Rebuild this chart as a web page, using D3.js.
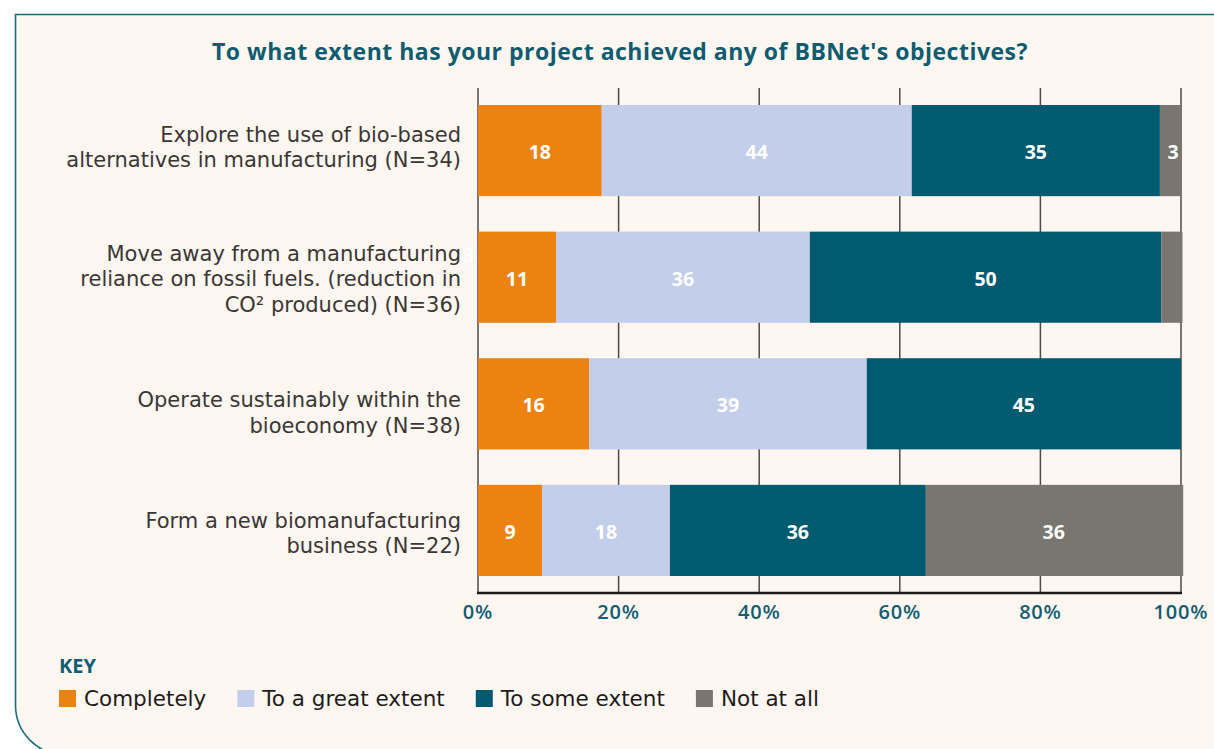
<!DOCTYPE html>
<html lang="en">
<head>
<meta charset="UTF-8">
<title>BBNet objectives</title>
<script src="https://cdn.jsdelivr.net/npm/d3@7"></script>
<style>
  html, body { margin: 0; padding: 0; background: #ffffff; }
  svg { display: block; font-family: "Open Sans", Lato, sans-serif; }
  .cat-label { font-family: "DejaVu Sans", sans-serif; font-size: 21px; fill: #3a3735; }
  .val-label { font-size: 19.5px; font-weight: 700; fill: #ffffff; }
  .tick-label { font-size: 20px; font-weight: 600; fill: #125d72; letter-spacing: 0.8px; }
  .legend-text { font-family: "DejaVu Sans", sans-serif; font-size: 21.5px; fill: #1d1b1a; }
</style>
</head>
<body>
<div id="chart"></div>
<script>
// categories (each line of the label is a separate string)
var categories = [
  ["Explore the use of bio-based", "alternatives in manufacturing (N=34)"],
  ["Move away from a manufacturing", "reliance on fossil fuels. (reduction in", "CO\u00B2 produced) (N=36)"],
  ["Operate sustainably within the", "bioeconomy (N=38)"],
  ["Form a new biomanufacturing", "business (N=22)"]
];

var seriesNames = ["Completely", "To a great extent", "To some extent", "Not at all"];

var completely   = [17.6, 11.1, 15.8, 9.1];
var greatExtent  = [44.1, 36.1, 39.5, 18.2];
var someExtent   = [35.3, 50.0, 44.7, 36.4];
var notAtAll     = [2.9, 2.8, 0, 36.4];

var completelyLbl  = ["18", "11", "16", "9"];
var greatExtentLbl = ["44", "36", "39", "18"];
var someExtentLbl  = ["35", "50", "45", "36"];
var notAtAllLbl    = ["3", "3", "", "36"];

var tickValues = [0, 20, 40, 60, 80, 100];

var colors = ["#eb8211", "#c3ceea", "#005a70", "#79756f"];

var width = 1214, height = 749;
var svg = d3.select("#chart").append("svg")
  .attr("width", width)
  .attr("height", height);

// panel with the rounded bottom-left corner
svg.append("path")
  .attr("d", "M1230,14.5 H15.5 V705 A50,50 0 0 0 65.5,755 H1230 Z")
  .attr("fill", "#fdf6f1")
  .attr("stroke", "#1b6b7d")
  .attr("stroke-width", 1.6);

svg.append("text")
  .attr("x", 620)
  .attr("y", 60)
  .attr("text-anchor", "middle")
  .attr("font-size", 23)
  .attr("font-weight", 700)
  .attr("letter-spacing", 0.5)
  .attr("fill", "#0f5b6f")
  .text("To what extent has your project achieved any of BBNet's objectives?");

var x = d3.scaleLinear().domain([0, 100]).range([478, 1181]);
var y = d3.scaleBand().domain(d3.range(categories.length))
  .range([105, 576]).paddingInner(0.28);

// gridlines (behind bars)
svg.append("g").selectAll("line")
  .data(tickValues)
  .enter().append("line")
  .attr("x1", function (d) { return x(d); })
  .attr("x2", function (d) { return x(d); })
  .attr("y1", 88)
  .attr("y2", 593)
  .attr("stroke", "#4d4a48")
  .attr("stroke-width", 1.5);

// axis baseline
svg.append("line")
  .attr("x1", x(0) - 1)
  .attr("x2", x(100) + 1)
  .attr("y1", 593)
  .attr("y2", 593)
  .attr("stroke", "#1a1a1a")
  .attr("stroke-width", 2.4);

svg.append("g").selectAll("text")
  .data(tickValues)
  .enter().append("text")
  .attr("class", "tick-label")
  .attr("x", function (d) { return x(d); })
  .attr("y", 619)
  .attr("text-anchor", "middle")
  .text(function (d) { return d + "%"; });

// stack
var rows = categories.map(function (c, i) {
  return { i: i, v: [completely[i], greatExtent[i], someExtent[i], notAtAll[i]],
           l: [completelyLbl[i], greatExtentLbl[i], someExtentLbl[i], notAtAllLbl[i]] };
});

var segs = [];
rows.forEach(function (r) {
  var acc = 0;
  r.v.forEach(function (v, k) {
    segs.push({ row: r.i, k: k, x0: acc, x1: acc + v, label: r.l[k] });
    acc += v;
  });
});

svg.append("g").selectAll("rect")
  .data(segs.filter(function (s) { return s.x1 > s.x0; }))
  .enter().append("rect")
  .attr("x", function (d) { return x(d.x0); })
  .attr("width", function (d) { return x(d.x1) - x(d.x0) + (d.k === 3 ? 1.5 : 0); })
  .attr("y", function (d) { return y(d.row); })
  .attr("height", y.bandwidth())
  .attr("fill", function (d) { return colors[d.k]; });

// value labels; the tiny "Not at all" share of row 2 had its label pushed off to the left
svg.append("g").selectAll("text")
  .data(segs.filter(function (s) { return s.label !== ""; }))
  .enter().append("text")
  .attr("class", "val-label")
  .attr("text-anchor", "middle")
  .attr("dominant-baseline", "central")
  .attr("x", function (d) {
    if (d.row === 1 && d.k === 3) return x(0) - 9;
    return (x(d.x0) + x(d.x1)) / 2 + (d.k === 3 && d.row === 0 ? 3 : 0);
  })
  .attr("y", function (d) {
    if (d.row === 1 && d.k === 3) return y(d.row) + 23;
    return y(d.row) + y.bandwidth() / 2 + 1;
  })
  .text(function (d) { return d.label; });

// category labels
var labelShift = [-3, 2, 9, 3];
var lineH = 25.5;
var cat = svg.append("g").selectAll("text")
  .data(categories)
  .enter().append("text")
  .attr("class", "cat-label")
  .attr("text-anchor", "end")
  .attr("dominant-baseline", "central");

cat.each(function (lines, i) {
  var cy = y(i) + y.bandwidth() / 2 + labelShift[i];
  var top = cy - (lines.length - 1) * lineH / 2;
  d3.select(this).selectAll("tspan")
    .data(lines)
    .enter().append("tspan")
    .attr("x", 461)
    .attr("y", function (d, j) { return top + j * lineH; })
    .text(function (d) { return d; });
});

// legend
svg.append("text")
  .attr("x", 59)
  .attr("y", 673)
  .attr("font-size", 20)
  .attr("font-weight", 700)
  .attr("fill", "#125d72")
  .text("KEY");

var lx = 59;
seriesNames.forEach(function (name, k) {
  svg.append("rect")
    .attr("x", lx)
    .attr("y", 690)
    .attr("width", 17)
    .attr("height", 17)
    .attr("fill", colors[k]);
  var t = svg.append("text")
    .attr("class", "legend-text")
    .attr("x", lx + 25)
    .attr("y", 706)
    .text(name);
  lx = lx + 25 + t.node().getComputedTextLength() + 31;
});
</script>
</body>
</html>
